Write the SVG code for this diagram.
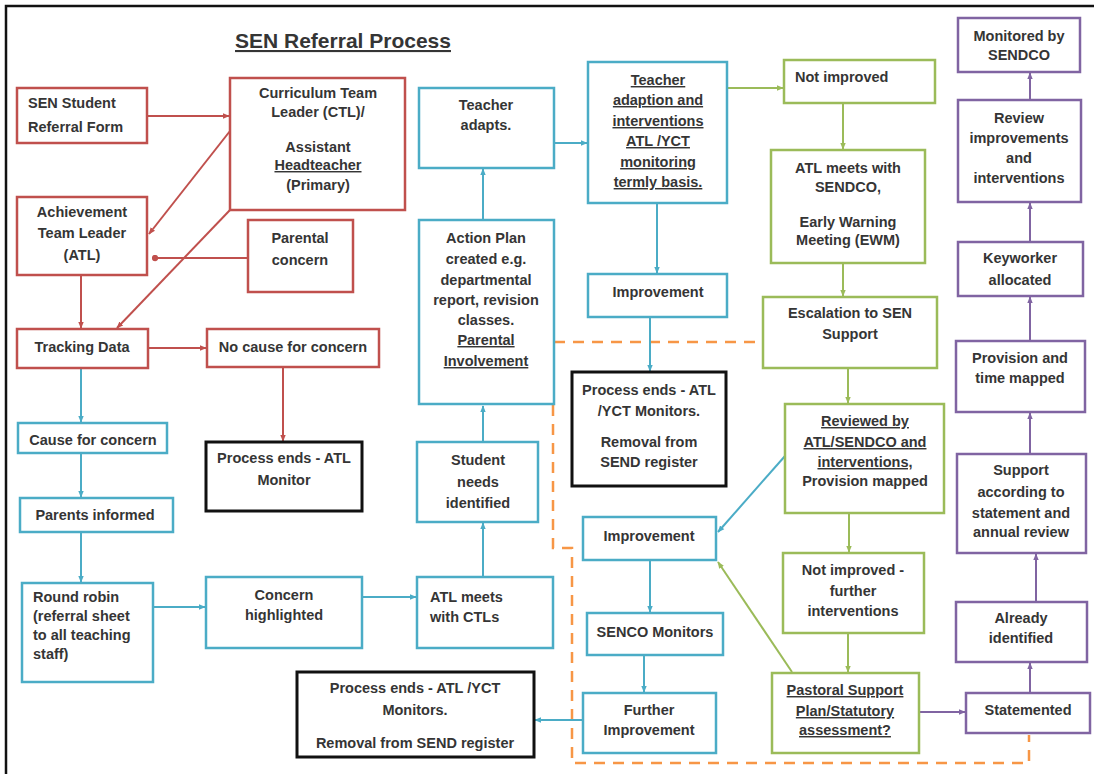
<svg xmlns="http://www.w3.org/2000/svg" width="1094" height="774" viewBox="0 0 1094 774">
<style>
.t{font-family:"Liberation Sans",Arial,sans-serif;font-size:14.5px;font-weight:bold;fill:#353535}
.m{text-anchor:middle}
.u{text-decoration:underline}
.red{fill:#fff;stroke:#c0504d;stroke-width:2.5}
.teal{fill:#fff;stroke:#4bacc6;stroke-width:2.5}
.green{fill:#fff;stroke:#9bbb59;stroke-width:2.5}
.purple{fill:#fff;stroke:#8064a2;stroke-width:2.5}
.blk{fill:#fff;stroke:#111;stroke-width:3}
.cr{fill:none;stroke:#c0504d;stroke-width:2}
.ct{fill:none;stroke:#4bacc6;stroke-width:2}
.cg{fill:none;stroke:#9bbb59;stroke-width:2}
.cp{fill:none;stroke:#8064a2;stroke-width:2}
.dash{fill:none;stroke:#f79646;stroke-width:2.5;stroke-dasharray:11 8}
</style>
<defs>
<marker id="ar" viewBox="0 0 10 10" refX="9" refY="5" markerWidth="7" markerHeight="7" orient="auto" markerUnits="userSpaceOnUse"><path d="M0,1 L10,5 L0,9z" fill="#c0504d"/></marker>
<marker id="dr" viewBox="0 0 10 10" refX="5" refY="5" markerWidth="7" markerHeight="7" orient="auto" markerUnits="userSpaceOnUse"><circle cx="5" cy="5" r="4.5" fill="#c0504d"/></marker>
<marker id="at" viewBox="0 0 10 10" refX="9" refY="5" markerWidth="7" markerHeight="7" orient="auto" markerUnits="userSpaceOnUse"><path d="M0,1 L10,5 L0,9z" fill="#4bacc6"/></marker>
<marker id="ag" viewBox="0 0 10 10" refX="9" refY="5" markerWidth="7" markerHeight="7" orient="auto" markerUnits="userSpaceOnUse"><path d="M0,1 L10,5 L0,9z" fill="#9bbb59"/></marker>
<marker id="ap" viewBox="0 0 10 10" refX="9" refY="5" markerWidth="7" markerHeight="7" orient="auto" markerUnits="userSpaceOnUse"><path d="M0,1 L10,5 L0,9z" fill="#8064a2"/></marker>
</defs>
<rect x="0" y="0" width="1094" height="774" fill="#fff"/>
<path d="M6,774 V6 H1094" fill="none" stroke="#111" stroke-width="2.5"/>
<text class="t m u" x="343" y="48" style="font-size:21px">SEN Referral Process</text>

<g id="connectors">
<path class="dash" d="M554,342 H763"/>
<path class="dash" d="M553,405 V548 H572 V763 H1029 V735"/>
<path class="cr" d="M147,116 H229" marker-end="url(#ar)"/>
<path class="cr" d="M230,131 L149,234" marker-end="url(#ar)"/>
<path class="cr" d="M230,210 L117,328" marker-end="url(#ar)"/>
<path class="cr" d="M248,258 H155" marker-end="url(#dr)"/>
<path class="cr" d="M81,275 V328" marker-end="url(#ar)"/>
<path class="cr" d="M148,348 H206" marker-end="url(#ar)"/>
<path class="cr" d="M283,367 V441" marker-end="url(#ar)"/>
<path class="ct" d="M81,368 V422" marker-end="url(#at)"/>
<path class="ct" d="M81,453 V497" marker-end="url(#at)"/>
<path class="ct" d="M81,532 V582" marker-end="url(#at)"/>
<path class="ct" d="M153,607 H205" marker-end="url(#at)"/>
<path class="ct" d="M362,597 H416" marker-end="url(#at)"/>
<path class="ct" d="M483,577 V523" marker-end="url(#at)"/>
<path class="ct" d="M483,442 V406" marker-end="url(#at)"/>
<path class="ct" d="M483,220 V169" marker-end="url(#at)"/>
<path class="ct" d="M554,143 H587" marker-end="url(#at)"/>
<path class="ct" d="M657,203 V273" marker-end="url(#at)"/>
<path class="ct" d="M650,317 V371" marker-end="url(#at)"/>
<path class="ct" d="M785,456 L718,532" marker-end="url(#at)"/>
<path class="ct" d="M650,560 V612" marker-end="url(#at)"/>
<path class="ct" d="M644,655 V692" marker-end="url(#at)"/>
<path class="ct" d="M583,720 H535" marker-end="url(#at)"/>
<path class="cg" d="M727,88 H783" marker-end="url(#ag)"/>
<path class="cg" d="M843,103 V149" marker-end="url(#ag)"/>
<path class="cg" d="M843,263 V296" marker-end="url(#ag)"/>
<path class="cg" d="M848,368 V403" marker-end="url(#ag)"/>
<path class="cg" d="M849,513 V552" marker-end="url(#ag)"/>
<path class="cg" d="M848,633 V672" marker-end="url(#ag)"/>
<path class="cg" d="M792,672 L718,562" marker-end="url(#ag)"/>
<path class="cp" d="M919,712 H965" marker-end="url(#ap)"/>
<path class="cp" d="M1030,693 V663" marker-end="url(#ap)"/>
<path class="cp" d="M1036,602 V554" marker-end="url(#ap)"/>
<path class="cp" d="M1030,454 V413" marker-end="url(#ap)"/>
<path class="cp" d="M1030,341 V297" marker-end="url(#ap)"/>
<path class="cp" d="M1030,242 V203" marker-end="url(#ap)"/>
<path class="cp" d="M1030,100 V73" marker-end="url(#ap)"/>
</g>

<g id="n-referral-form"><rect class="red" x="17" y="88" width="130" height="55"/><text class="t" x="28" y="108">SEN Student</text><text class="t" x="28" y="132">Referral Form</text></g>
<g id="n-ctl"><rect class="red" x="230" y="78" width="175" height="132"/><text class="t m" x="318" y="98">Curriculum Team</text><text class="t m" x="318" y="117">Leader (CTL)/</text><text class="t m" x="318" y="152">Assistant</text><text class="t m u" x="318" y="170">Headteacher</text><text class="t m" x="318" y="190">(Primary)</text></g>
<g id="n-atl"><rect class="red" x="17" y="197" width="130" height="78"/><text class="t m" x="82" y="217">Achievement</text><text class="t m" x="82" y="238">Team Leader</text><text class="t m" x="82" y="260">(ATL)</text></g>
<g id="n-parental"><rect class="red" x="248" y="220" width="105" height="72"/><text class="t m" x="300" y="243">Parental</text><text class="t m" x="300" y="265">concern</text></g>
<g id="n-tracking"><rect class="red" x="17" y="329" width="131" height="39"/><text class="t m" x="82" y="352">Tracking Data</text></g>
<g id="n-nocause"><rect class="red" x="207" y="329" width="172" height="38"/><text class="t m" x="293" y="352">No cause for concern</text></g>
<g id="n-end-atl"><rect class="blk" x="206" y="442" width="156" height="69"/><text class="t m" x="284" y="463">Process ends - ATL</text><text class="t m" x="284" y="485">Monitor</text></g>
<g id="n-cause"><rect class="teal" x="18" y="423" width="149" height="30"/><text class="t m" x="93" y="445">Cause for concern</text></g>
<g id="n-parents"><rect class="teal" x="20" y="498" width="153" height="34"/><text class="t m" x="95" y="520">Parents informed</text></g>
<g id="n-roundrobin"><rect class="teal" x="22" y="583" width="131" height="99"/><text class="t" x="33" y="602">Round robin</text><text class="t" x="33" y="621">(referral sheet</text><text class="t" x="33" y="640">to all teaching</text><text class="t" x="33" y="659">staff)</text></g>
<g id="n-concern"><rect class="teal" x="206" y="577" width="156" height="71"/><text class="t m" x="284" y="600">Concern</text><text class="t m" x="284" y="620">highlighted</text></g>
<g id="n-atl-ctls"><rect class="teal" x="417" y="577" width="136" height="71"/><text class="t" x="430" y="602">ATL meets</text><text class="t" x="430" y="622">with CTLs</text></g>
<g id="n-student-needs"><rect class="teal" x="417" y="442" width="121" height="80"/><text class="t m" x="478" y="465">Student</text><text class="t m" x="478" y="487">needs</text><text class="t m" x="478" y="508">identified</text></g>
<g id="n-action-plan"><rect class="teal" x="419" y="220" width="135" height="184"/><text class="t m" x="486" y="243">Action Plan</text><text class="t m" x="486" y="264">created e.g.</text><text class="t m" x="486" y="285">departmental</text><text class="t m" x="486" y="305">report, revision</text><text class="t m" x="486" y="325">classes.</text><text class="t m u" x="486" y="345">Parental</text><text class="t m u" x="486" y="366">Involvement</text></g>
<g id="n-teacher-adapts"><rect class="teal" x="419" y="88" width="135" height="80"/><text class="t m" x="486" y="110">Teacher</text><text class="t m" x="486" y="130">adapts.</text></g>
<g id="n-teacher-adaption"><rect class="teal" x="588" y="62" width="139" height="141"/><text class="t m u" x="658" y="85">Teacher</text><text class="t m u" x="658" y="105">adaption and</text><text class="t m u" x="658" y="126">interventions</text><text class="t m u" x="658" y="146">ATL /YCT</text><text class="t m u" x="658" y="167">monitoring</text><text class="t m u" x="658" y="187">termly basis.</text></g>
<g id="n-improvement-top"><rect class="teal" x="588" y="274" width="139" height="43"/><text class="t m" x="658" y="297">Improvement</text></g>
<g id="n-end-mid"><rect class="blk" x="572" y="372" width="154" height="114"/><text class="t m" x="649" y="395">Process ends - ATL</text><text class="t m" x="649" y="416">/YCT Monitors.</text><text class="t m" x="649" y="447">Removal from</text><text class="t m" x="649" y="467">SEND register</text></g>
<g id="n-improvement-mid"><rect class="teal" x="583" y="517" width="133" height="43"/><text class="t m" x="649" y="541">Improvement</text></g>
<g id="n-senco"><rect class="teal" x="587" y="613" width="136" height="42"/><text class="t m" x="655" y="637">SENCO Monitors</text></g>
<g id="n-further"><rect class="teal" x="583" y="693" width="133" height="60"/><text class="t m" x="649" y="715">Further</text><text class="t m" x="649" y="735">Improvement</text></g>
<g id="n-end-bottom"><rect class="blk" x="297" y="672" width="237" height="85"/><text class="t m" x="415" y="693">Process ends - ATL /YCT</text><text class="t m" x="415" y="715">Monitors.</text><text class="t m" x="415" y="748">Removal from SEND register</text></g>
<g id="n-not-improved"><rect class="green" x="784" y="60" width="151" height="43"/><text class="t" x="795" y="82">Not improved</text></g>
<g id="n-atl-sendco"><rect class="green" x="771" y="150" width="154" height="113"/><text class="t m" x="848" y="173">ATL meets with</text><text class="t m" x="848" y="192">SENDCO,</text><text class="t m" x="848" y="227">Early Warning</text><text class="t m" x="848" y="245">Meeting (EWM)</text></g>
<g id="n-escalation"><rect class="green" x="763" y="297" width="174" height="71"/><text class="t m" x="850" y="318">Escalation to SEN</text><text class="t m" x="850" y="339">Support</text></g>
<g id="n-reviewed"><rect class="green" x="785" y="404" width="159" height="109"/><text class="t m u" x="865" y="426">Reviewed by</text><text class="t m u" x="865" y="447">ATL/SENDCO and</text><text class="t m u" x="865" y="467">interventions,</text><text class="t m" x="865" y="486">Provision mapped</text></g>
<g id="n-not-improved-further"><rect class="green" x="783" y="553" width="141" height="80"/><text class="t m" x="853" y="575">Not improved -</text><text class="t m" x="853" y="596">further</text><text class="t m" x="853" y="616">interventions</text></g>
<g id="n-pastoral"><rect class="green" x="772" y="673" width="147" height="80"/><text class="t m u" x="845" y="695">Pastoral Support</text><text class="t m u" x="845" y="716">Plan/Statutory</text><text class="t m u" x="845" y="735">assessment?</text></g>
<g id="n-monitored"><rect class="purple" x="958" y="18" width="122" height="54"/><text class="t m" x="1019" y="41">Monitored by</text><text class="t m" x="1019" y="60">SENDCO</text></g>
<g id="n-review"><rect class="purple" x="958" y="100" width="123" height="102"/><text class="t m" x="1019" y="123">Review</text><text class="t m" x="1019" y="143">improvements</text><text class="t m" x="1019" y="163">and</text><text class="t m" x="1019" y="183">interventions</text></g>
<g id="n-keyworker"><rect class="purple" x="958" y="242" width="125" height="54"/><text class="t m" x="1020" y="263">Keyworker</text><text class="t m" x="1020" y="285">allocated</text></g>
<g id="n-provision"><rect class="purple" x="956" y="341" width="129" height="71"/><text class="t m" x="1020" y="363">Provision and</text><text class="t m" x="1020" y="383">time mapped</text></g>
<g id="n-support"><rect class="purple" x="957" y="454" width="129" height="99"/><text class="t m" x="1021" y="475">Support</text><text class="t m" x="1021" y="497">according to</text><text class="t m" x="1021" y="518">statement and</text><text class="t m" x="1021" y="537">annual review</text></g>
<g id="n-already"><rect class="purple" x="956" y="602" width="131" height="60"/><text class="t m" x="1021" y="623">Already</text><text class="t m" x="1021" y="643">identified</text></g>
<g id="n-statemented"><rect class="purple" x="966" y="693" width="124" height="40"/><text class="t m" x="1028" y="715">Statemented</text></g>
</svg>
